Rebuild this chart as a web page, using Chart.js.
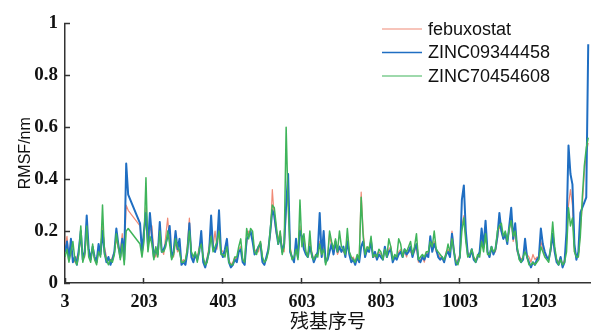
<!DOCTYPE html>
<html>
<head>
<meta charset="utf-8">
<script src="https://cdn.jsdelivr.net/npm/chart.js@4.4.1/dist/chart.umd.min.js"></script>
<style>
  body { margin: 0; background: #fff; }
  #wrap { width: 591px; height: 332px; }
</style>
</head>
<body>
<div id="wrap"><canvas id="rmsfChart" width="591" height="332"></canvas></div>
<script>
// residue numbers, every 5th residue (168-188 missing in the structure)
const residues = [];
for (let r = 3; r <= 1328; r += 5) residues.push(r);

const xTicks = [3, 203, 403, 603, 803, 1003, 1203];
const yTicks = [0, 0.2, 0.4, 0.6, 0.8, 1];

const seriesNames = ['febuxostat', 'ZINC09344458', 'ZINC70454608'];

const febuxostat = [
  0.14, 0.18, 0.1, 0.13, 0.09, 0.08, 0.1, 0.12, 0.17, 0.1,
  0.1, 0.2, 0.12, 0.1, 0.13, 0.09, 0.1, 0.12, 0.12, 0.22,
  0.14, 0.1, 0.09, 0.08, 0.1, 0.12, 0.17, 0.13, 0.12, 0.19, 0.1, 0.3,
  0.28, null, null, null, null, null, 0.22,
  0.14, 0.17, 0.29, 0.13, 0.2, 0.22, 0.12, 0.1, 0.14, 0.18, 0.13,
  0.11, 0.18, 0.25, 0.16, 0.12, 0.1, 0.16, 0.12, 0.13, 0.08,
  0.09, 0.08, 0.15, 0.25, 0.11, 0.09, 0.1, 0.1, 0.14, 0.16,
  0.09, 0.07, 0.1, 0.14, 0.2, 0.14, 0.2, 0.13, 0.22, 0.13,
  0.12, 0.11, 0.14, 0.09, 0.07, 0.08, 0.1, 0.09, 0.13, 0.14,
  0.09, 0.08, 0.15, 0.2, 0.19, 0.17, 0.12, 0.13, 0.12, 0.16,
  0.09, 0.08, 0.09, 0.14, 0.18, 0.36, 0.25, 0.19, 0.17, 0.2,
  0.13, 0.12, 0.28, 0.35, 0.14, 0.1, 0.09, 0.14, 0.11, 0.22,
  0.15, 0.17, 0.12, 0.11, 0.16, 0.12, 0.09, 0.1, 0.11, 0.16,
  0.1, 0.15, 0.09, 0.1, 0.19, 0.14, 0.12, 0.15, 0.11, 0.13,
  0.13, 0.12, 0.11, 0.17, 0.12, 0.09, 0.1, 0.08, 0.09, 0.1,
  0.35, 0.2, 0.12, 0.12, 0.14, 0.15, 0.11, 0.1, 0.11, 0.12,
  0.11, 0.1, 0.12, 0.11, 0.13, 0.14, 0.09, 0.1, 0.1, 0.12,
  0.13, 0.11, 0.12, 0.1, 0.13, 0.12, 0.11, 0.12, 0.14, 0.08,
  0.09, 0.1, 0.08, 0.12, 0.11, 0.15, 0.13, 0.16, 0.12, 0.11,
  0.1, 0.09, 0.09, 0.12, 0.13, 0.11, 0.2, 0.13, 0.08, 0.09,
  0.11, 0.22, 0.26, 0.17, 0.12, 0.1, 0.12, 0.1, 0.09, 0.1,
  0.11, 0.17, 0.13, 0.18, 0.12, 0.1, 0.13, 0.12, 0.12, 0.17,
  0.22, 0.2, 0.17, 0.18, 0.16, 0.2, 0.25, 0.16, 0.2, 0.12,
  0.11, 0.09, 0.1, 0.14, 0.11, 0.1, 0.08, 0.11, 0.09, 0.1,
  0.1, 0.16, 0.13, 0.11, 0.1, 0.1, 0.12, 0.18, 0.13, 0.09, 0.08, 0.1, 0.07,
  0.09, 0.15, 0.3, 0.36, 0.3, 0.12, 0.1, 0.1, 0.2, 0.3, 0.42, 0.5, 0.54
];

const zinc093 = [
  0.12, 0.16, 0.09, 0.17, 0.08, 0.1, 0.07, 0.13, 0.2, 0.09,
  0.12, 0.26, 0.13, 0.09, 0.14, 0.1, 0.08, 0.15, 0.11, 0.2,
  0.12, 0.08, 0.1, 0.07, 0.09, 0.12, 0.21, 0.15, 0.1, 0.17, 0.09, 0.46,
  0.34, null, null, null, null, null, 0.23,
  0.12, 0.2, 0.27, 0.14, 0.27, 0.18, 0.1, 0.13, 0.11, 0.235, 0.12,
  0.13, 0.15, 0.18, 0.22, 0.1, 0.12, 0.2, 0.13, 0.17, 0.07,
  0.08, 0.07, 0.12, 0.23, 0.1, 0.08, 0.11, 0.09, 0.12, 0.2,
  0.08, 0.06, 0.09, 0.12, 0.26, 0.13, 0.12, 0.15, 0.28, 0.12,
  0.1, 0.13, 0.17, 0.08, 0.06, 0.07, 0.09, 0.08, 0.12, 0.13,
  0.08, 0.07, 0.17, 0.18, 0.2, 0.16, 0.11, 0.12, 0.14, 0.15,
  0.08, 0.07, 0.1, 0.13, 0.2, 0.28, 0.26, 0.2, 0.15, 0.18,
  0.12, 0.15, 0.3, 0.42, 0.12, 0.1, 0.08, 0.17, 0.1, 0.2,
  0.18, 0.13, 0.11, 0.1, 0.14, 0.11, 0.08, 0.1, 0.12, 0.27,
  0.1, 0.2, 0.08, 0.09, 0.12, 0.15, 0.11, 0.16, 0.12, 0.14,
  0.12, 0.14, 0.1, 0.16, 0.11, 0.08, 0.09, 0.07, 0.1, 0.08,
  0.14, 0.16, 0.1, 0.13, 0.12, 0.16, 0.1, 0.12, 0.09, 0.11,
  0.1, 0.09, 0.14, 0.1, 0.12, 0.13, 0.08, 0.1, 0.09, 0.11,
  0.12, 0.1, 0.13, 0.11, 0.12, 0.14, 0.1, 0.13, 0.15, 0.09,
  0.08, 0.1, 0.09, 0.11, 0.1, 0.18, 0.12, 0.15, 0.13, 0.1,
  0.09, 0.1, 0.08, 0.11, 0.12, 0.1, 0.19, 0.12, 0.07, 0.08,
  0.1, 0.32, 0.376, 0.2, 0.11, 0.1, 0.13, 0.09, 0.08, 0.1,
  0.12, 0.21, 0.14, 0.24, 0.12, 0.1, 0.14, 0.11, 0.13, 0.18,
  0.27, 0.2, 0.17, 0.19, 0.15, 0.22, 0.29, 0.17, 0.23, 0.13,
  0.1, 0.08, 0.09, 0.17, 0.1, 0.08, 0.06, 0.08, 0.07, 0.09,
  0.1, 0.21, 0.15, 0.12, 0.1, 0.09, 0.13, 0.19, 0.12, 0.08, 0.07, 0.1, 0.06,
  0.08, 0.2, 0.53, 0.42, 0.38, 0.15, 0.09, 0.12, 0.27, 0.29, 0.31, 0.33, 0.92
];

const zinc704 = [
  0.1, 0.13, 0.08, 0.12, 0.16, 0.09, 0.07, 0.11, 0.22, 0.08,
  0.11, 0.22, 0.1, 0.08, 0.15, 0.09, 0.07, 0.12, 0.1, 0.3,
  0.11, 0.09, 0.07, 0.09, 0.08, 0.11, 0.19, 0.14, 0.09, 0.15, 0.07, 0.2,
  0.21, null, null, null, null, null, 0.15,
  0.1, 0.16, 0.405, 0.12, 0.18, 0.15, 0.09, 0.14, 0.1, 0.2, 0.12,
  0.12, 0.14, 0.2, 0.15, 0.09, 0.11, 0.17, 0.14, 0.12, 0.08,
  0.08, 0.09, 0.13, 0.2, 0.12, 0.1, 0.12, 0.08, 0.13, 0.15,
  0.1, 0.07, 0.08, 0.13, 0.18, 0.12, 0.14, 0.16, 0.2, 0.11,
  0.11, 0.1, 0.14, 0.08, 0.07, 0.07, 0.1, 0.1, 0.14, 0.17,
  0.09, 0.08, 0.21, 0.17, 0.21, 0.2, 0.12, 0.11, 0.14, 0.16,
  0.1, 0.08, 0.09, 0.12, 0.21, 0.3, 0.29, 0.22, 0.15, 0.2,
  0.11, 0.14, 0.6, 0.3, 0.13, 0.09, 0.1, 0.13, 0.09, 0.32,
  0.14, 0.19, 0.12, 0.1, 0.2, 0.1, 0.09, 0.11, 0.1, 0.15,
  0.11, 0.13, 0.07, 0.1, 0.2, 0.16, 0.13, 0.17, 0.12, 0.2,
  0.14, 0.13, 0.11, 0.21, 0.12, 0.1, 0.09, 0.08, 0.11, 0.09,
  0.33, 0.18, 0.11, 0.14, 0.13, 0.18, 0.1, 0.11, 0.1, 0.13,
  0.12, 0.09, 0.13, 0.1, 0.17, 0.14, 0.09, 0.11, 0.1, 0.17,
  0.15, 0.1, 0.13, 0.12, 0.14, 0.16, 0.11, 0.14, 0.19, 0.09,
  0.1, 0.11, 0.1, 0.12, 0.12, 0.16, 0.14, 0.2, 0.13, 0.12,
  0.11, 0.1, 0.09, 0.11, 0.15, 0.12, 0.17, 0.12, 0.08, 0.07,
  0.1, 0.2, 0.25, 0.16, 0.1, 0.11, 0.13, 0.1, 0.08, 0.11,
  0.1, 0.16, 0.12, 0.19, 0.11, 0.11, 0.14, 0.12, 0.13, 0.2,
  0.22, 0.23, 0.18, 0.2, 0.16, 0.21, 0.24, 0.18, 0.2, 0.14,
  0.09, 0.08, 0.1, 0.12, 0.1, 0.07, 0.07, 0.08, 0.07, 0.08,
  0.09, 0.14, 0.12, 0.1, 0.09, 0.08, 0.14, 0.235, 0.14, 0.09, 0.07, 0.09, 0.07,
  0.08, 0.12, 0.29, 0.22, 0.25, 0.12, 0.1, 0.1, 0.18, 0.33, 0.45, 0.52, 0.56
];

const colors = ['#f08a76', '#1f6ec2', '#3fb45a'];
const widths = [1.2, 2, 1.5];

function toPoints(values) {
  return residues.map((r, i) => ({ x: r, y: values[i] }));
}

// legend drawn inside the plot, top right, with line samples
const insideLegend = {
  id: 'insideLegend',
  afterDraw(chart) {
    const ctx = chart.ctx;
    ctx.save();
    ctx.font = '18px "Liberation Sans", Arial, sans-serif';
    ctx.textBaseline = 'middle';
    chart.data.datasets.forEach((ds, i) => {
      const y = 29 + i * 23.5;
      ctx.strokeStyle = ds.borderColor;
      ctx.lineWidth = i === 1 ? 1.7 : 1.2;
      ctx.beginPath();
      ctx.moveTo(382, y);
      ctx.lineTo(422, y);
      ctx.stroke();
      ctx.fillStyle = '#111';
      ctx.fillText(ds.label, 428, y + 1);
    });
    ctx.restore();
  }
};

const ctx = document.getElementById('rmsfChart').getContext('2d');
const rmsfChart = new Chart(ctx, {
  type: 'line',
  data: {
    datasets: [
      { label: seriesNames[0], data: toPoints(febuxostat), borderColor: colors[0], borderWidth: widths[0], order: 3 },
      { label: seriesNames[1], data: toPoints(zinc093), borderColor: colors[1], borderWidth: widths[1], order: 2 },
      { label: seriesNames[2], data: toPoints(zinc704), borderColor: colors[2], borderWidth: widths[2], order: 1 }
    ]
  },
  options: {
    responsive: false,
    animation: false,
    devicePixelRatio: 1,
    spanGaps: true,
    layout: { padding: { top: 14, left: 0, right: 0, bottom: 0 } },
    elements: {
      point: { radius: 0 },
      line: { tension: 0, fill: false, borderJoinStyle: 'round' }
    },
    plugins: {
      legend: { display: false },
      tooltip: { enabled: false }
    },
    scales: {
      x: {
        type: 'linear',
        min: 3,
        max: 1335,
        afterFit: s => { s.height = 49; },
        afterBuildTicks: s => { s.ticks = xTicks.map(v => ({ value: v })); },
        border: { color: '#333', width: 1.5 },
        grid: { drawOnChartArea: false, tickLength: -5, tickColor: '#333', tickWidth: 1.5 },
        ticks: {
          padding: 14,
          maxRotation: 0,
          autoSkip: false,
          color: '#111',
          font: { family: '"Liberation Serif", "Times New Roman", serif', weight: 'bold', size: 18 },
          callback: v => String(v)
        },
        title: {
          display: true,
          text: '残基序号',
          color: '#111',
          padding: { top: 0, bottom: 0 },
          font: { family: '"Noto Sans CJK SC", sans-serif', size: 19 }
        }
      },
      y: {
        min: 0,
        max: 1,
        afterFit: s => { s.width = 65; },
        afterBuildTicks: s => { s.ticks = yTicks.map(v => ({ value: v })); },
        border: { color: '#333', width: 1.5 },
        grid: { drawOnChartArea: false, tickLength: -5, tickColor: '#333', tickWidth: 1.5 },
        ticks: {
          padding: 12,
          color: '#111',
          font: { family: '"Liberation Serif", "Times New Roman", serif', weight: 'bold', size: 19 },
          callback: v => String(v)
        },
        title: {
          display: true,
          text: 'RMSF/nm',
          color: '#111',
          padding: { top: 16, bottom: 0 },
          font: { family: '"Liberation Sans", Arial, sans-serif', size: 16 }
        }
      }
    }
  },
  plugins: [insideLegend]
});
</script>
</body>
</html>
